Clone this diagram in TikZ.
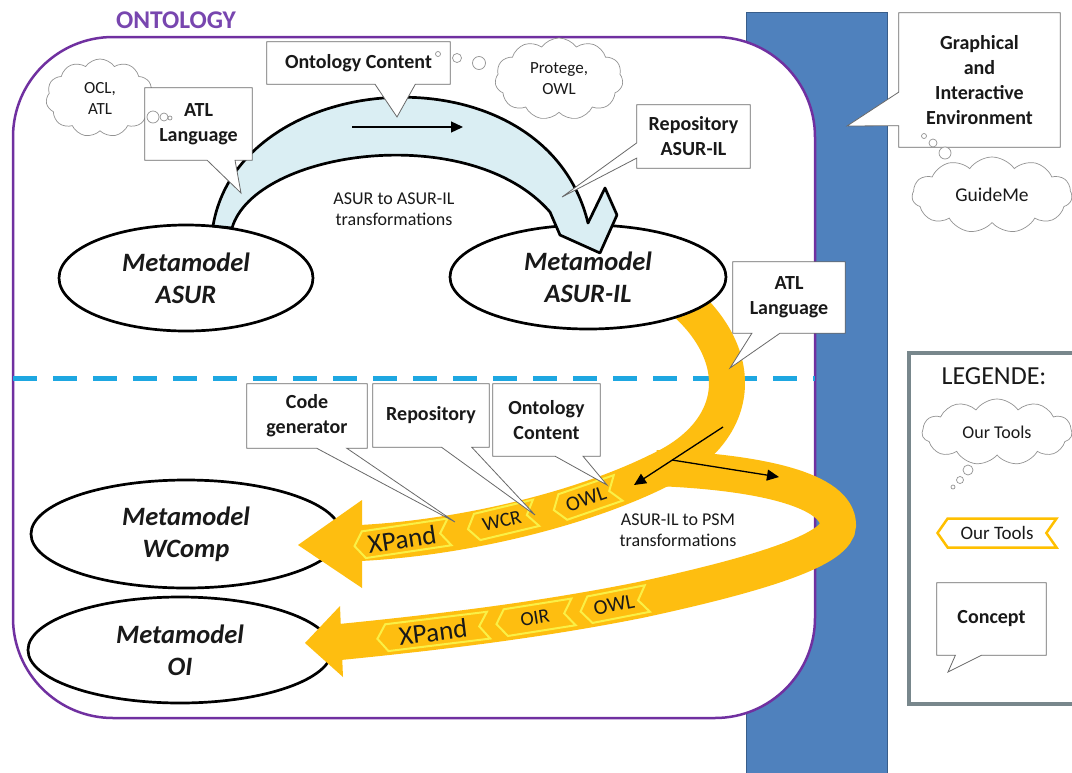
\documentclass[tikz,border=0pt]{standalone}
\usepackage{fontspec}
\setmainfont{Carlito}
\usetikzlibrary{shapes.geometric,shapes.symbols,arrows.meta,calc}
\definecolor{ontopurple}{RGB}{112,48,160}
\definecolor{titlepurple}{RGB}{120,70,175}
\definecolor{barblue}{RGB}{79,129,189}
\definecolor{bardark}{RGB}{56,93,138}
\definecolor{dashblue}{RGB}{30,167,225}
\definecolor{arcblue}{RGB}{218,238,243}
\definecolor{bandor}{RGB}{254,190,16}
\definecolor{chevy}{RGB}{250,240,70}
\definecolor{legor}{RGB}{255,192,0}
\definecolor{legframe}{RGB}{120,135,140}
\definecolor{calloutgray}{RGB}{105,105,105}
\definecolor{txt}{RGB}{25,25,25}
\newcommand{\calloutB}[4]{%
  \fill[white] ($(#1.south west)!#2!(#1.south east)$) -- (#4) -- ($(#1.south west)!#3!(#1.south east)$) -- cycle;
  \draw[callline] (#1.south west) -- ($(#1.south west)!#2!(#1.south east)$) -- (#4) -- ($(#1.south west)!#3!(#1.south east)$) -- (#1.south east) -- (#1.north east) -- (#1.north west) -- cycle;}
\newcommand{\calloutL}[4]{%
  \fill[white] ($(#1.north west)!#2!(#1.south west)$) -- (#4) -- ($(#1.north west)!#3!(#1.south west)$) -- cycle;
  \draw[callline] (#1.north west) -- ($(#1.north west)!#2!(#1.south west)$) -- (#4) -- ($(#1.north west)!#3!(#1.south west)$) -- (#1.south west) -- (#1.south east) -- (#1.north east) -- cycle;}
\begin{document}
\begin{tikzpicture}[x=1pt,y=-1pt,
  callbox/.style={rectangle, fill=white, inner sep=0pt, align=center, font=\fontsize{20}{25}\selectfont\bfseries, text=txt},
  callline/.style={draw=calloutgray, line width=0.8pt, line join=miter},
  ellip/.style={ellipse, draw=black, line width=2.7pt, fill=white, inner sep=0pt, align=center, font=\fontsize{26.5}{32}\selectfont\bfseries\itshape, text=txt},
  cloudy/.style={cloud, cloud puffs=11, cloud puff arc=110, cloud ignores aspect, draw=gray!85, line width=0.7pt, fill=white, inner sep=0pt, align=center, font=\fontsize{17}{21}\selectfont, text=txt},
  bubble/.style={circle, draw=gray!85, line width=0.7pt, fill=white, inner sep=0pt},
  chev/.style={signal, signal to=west, signal from=east, signal pointer angle=110, draw=chevy, line width=2pt, inner sep=0pt, minimum height=27pt, text=txt},
  band/.style={draw=bandor, line width=36pt, line cap=butt},
  blackarrow/.style={draw=black, line width=1.3pt, -{Triangle[length=12pt,width=11pt]}},
  plain/.style={align=center, text=txt, font=\fontsize{18}{21}\selectfont}
]
\useasboundingbox (0,0) rectangle (1072,772);
\fill[white] (0,0) rectangle (1072,772);

% blue vertical bar
\node[fill=barblue, draw=bardark, line width=1pt, minimum width=141pt, minimum height=775pt, anchor=north west, inner sep=0pt] (bar) at (746,12) {};

% ontology frame
\node[draw=ontopurple, line width=2.5pt, fill=white, rounded corners=100pt, minimum width=802pt, minimum height=681pt, inner sep=0pt] (onto) at (414,377.5) {};
\node[font=\fontsize{25.5}{30}\selectfont\bfseries, text=titlepurple] (ontotitle) at (176,20) {ONTOLOGY};

% dashed separator
\coordinate (dl) at (13,378);
\coordinate (dr) at (815,378);
\draw[dashblue, line width=5pt, dash pattern=on 24pt off 16pt] (dl) -- (dr);

% legend
\node[draw=legframe, line width=3.5pt, fill=white, minimum width=180pt, minimum height=351pt, anchor=north west, inner sep=0pt] (legend) at (907,351) {};
\node[font=\fontsize{26}{30}\selectfont, text=txt] (legtitle) at (994,376) {LEGENDE:};
\node[cloudy, minimum width=150pt, minimum height=66pt, font=\fontsize{18}{21}\selectfont] (legcloud) at (997,432) {Our Tools};
\node[bubble, minimum size=10pt] (lb1) at (968,470) {};
\node[bubble, minimum size=7pt] (lb2) at (960,480) {};
\node[bubble, minimum size=4pt] (lb3) at (953,487) {};
\node[signal, signal to=west, signal from=east, signal pointer angle=110, draw=legor, line width=2.5pt, fill=white, minimum width=119pt, minimum height=29pt, inner sep=0pt, font=\fontsize{19}{22}\selectfont, text=txt] (legchev) at (997,533) {Our Tools};
\node[callbox, minimum width=109pt, minimum height=72pt] (concept) at (991.5,619) {Concept};
\coordinate (tconcept) at (948,672);
\calloutB{concept}{0.17}{0.41}{tconcept}

% metamodel ellipses
\node[ellip, minimum width=254pt, minimum height=106pt] (asur) at (186,278) {Metamodel\\ASUR};
\node[ellip, minimum width=310pt, minimum height=108pt] (wcomp) at (186,534) {Metamodel\\WComp};
\node[ellip, minimum width=304pt, minimum height=106pt] (oi) at (180,650) {Metamodel\\OI};

% orange transformation band
\draw[band] (670,290) .. controls (750,350) and (745,430) .. (660,470) .. controls (580,510) and (460,538) .. (360,543);
\draw[band] (656,468) .. controls (760,472) and (838,490) .. (838,525) .. controls (838,548) and (770,572) .. (640,600) .. controls (540,620) and (440,632) .. (340,642);
\fill[bandor] (362,500) -- (298,545) -- (362,588) -- cycle;
\fill[bandor] (340,606) -- (305,643) -- (343,677) -- cycle;

% tool chevrons on the band
\node[chev, minimum width=96pt, rotate=8.5, font=\fontsize{27}{28}\selectfont] (xp1) at (402,539) {XPand};
\node[chev, minimum width=70pt, rotate=13.5, font=\fontsize{20}{22}\selectfont] (wcr) at (502,521) {WCR};
\node[chev, minimum width=68pt, rotate=19, font=\fontsize{21}{22}\selectfont] (owl1) at (586,499) {OWL};
\node[chev, minimum width=112pt, rotate=7, font=\fontsize{27}{28}\selectfont] (xp2) at (433,632) {XPand};
\node[chev, minimum width=78pt, rotate=9, font=\fontsize{20}{22}\selectfont] (oir) at (535,618) {OIR};
\node[chev, minimum width=68pt, rotate=11, font=\fontsize{21}{22}\selectfont] (owl2) at (614,605) {OWL};

% ASUR-IL ellipse
\node[ellip, minimum width=276pt, minimum height=104pt] (asuril) at (588,277) {Metamodel\\ASUR-IL};

% blue curved arrow ASUR -> ASUR-IL
\draw[line width=2.7pt, fill=arcblue, line join=round] (213,226) .. controls (240,65) and (545,45) .. (588,223) -- (605,188) -- (617,215) -- (600,253) -- (560,235) -- (550,212) .. controls (470,120) and (255,150) .. (232,228) -- cycle;
\node[plain] (t1) at (394,209) {ASUR to ASUR-IL\\transformations};
\coordinate (a1s) at (352,127);
\coordinate (a1e) at (463,127);
\draw[blackarrow] (a1s) -- (a1e);

% black arrows on orange band
\coordinate (a2s) at (723,427);
\coordinate (a2e) at (634,485);
\draw[blackarrow] (a2s) -- (a2e);
\coordinate (a3s) at (672,460);
\coordinate (a3e) at (779,477);
\draw[blackarrow] (a3s) -- (a3e);
\node[plain] (t2) at (678,530) {ASUR-IL to PSM\\transformations};

% clouds
\node[cloudy, minimum width=108pt, minimum height=78pt] (ocl) at (100,98) {OCL,\\ATL};
\node[cloudy, minimum width=128pt, minimum height=82pt] (protege) at (559,79) {Protege,\\OWL};
\node[cloudy, minimum width=160pt, minimum height=76pt, font=\fontsize{19.5}{22}\selectfont] (guideme) at (992,195) {GuideMe};

% concept callouts
\node[callbox, minimum width=107pt, minimum height=72pt] (atlA) at (198.5,124) {ATL\\Language};
\coordinate (tatlA) at (241,193);
\calloutB{atlA}{0.58}{0.84}{tatlA}
\node[callbox, minimum width=183pt, minimum height=42pt] (ocA) at (358.5,63) {Ontology Content};
\coordinate (tocA) at (397,117);
\calloutB{ocA}{0.59}{0.81}{tocA}
\node[callbox, minimum width=113pt, minimum height=63pt] (repoA) at (693.5,136.5) {Repository\\ASUR-IL};
\coordinate (trepoA) at (562,197);
\calloutL{repoA}{0.6}{0.84}{trepoA}
\node[callbox, minimum width=161pt, minimum height=134pt] (gie) at (979.5,80) {Graphical\\and\\Interactive\\Environment};
\coordinate (tgie) at (847,126);
\calloutL{gie}{0.59}{0.84}{tgie}
\node[callbox, minimum width=112pt, minimum height=71pt] (atlB) at (789,297.5) {ATL\\Language};
\coordinate (tatlB) at (730,368);
\calloutB{atlB}{0.17}{0.42}{tatlB}
\node[callbox, minimum width=120pt, minimum height=64pt] (codegen) at (307,416) {Code\\generator};
\coordinate (tcodegen) at (455,522);
\calloutB{codegen}{0.58}{0.83}{tcodegen}
\node[callbox, minimum width=116pt, minimum height=63pt] (repoB) at (431,415.5) {Repository};
\coordinate (trepoB) at (535,515);
\calloutB{repoB}{0.59}{0.85}{trepoB}
\node[callbox, minimum width=107pt, minimum height=72pt] (ocB) at (546.5,420) {Ontology\\Content};
\coordinate (tocB) at (607,485);
\calloutB{ocB}{0.58}{0.84}{tocB}

% thought bubbles (drawn over the callout boxes)
\node[bubble, minimum size=12pt] (ob1) at (153,117) {};
\node[bubble, minimum size=8pt] (ob2) at (164,117) {};
\node[bubble, minimum size=4pt] (ob3) at (170,118) {};
\node[bubble, minimum size=13pt] (pb1) at (479,63) {};
\node[bubble, minimum size=9pt] (pb2) at (457,58) {};
\node[bubble, minimum size=5pt] (pb3) at (438,54) {};
\node[bubble, minimum size=12pt] (gb1) at (945,153) {};
\node[bubble, minimum size=8pt] (gb2) at (933,143) {};
\node[bubble, minimum size=5pt] (gb3) at (924,136) {};
\end{tikzpicture}
\end{document}
